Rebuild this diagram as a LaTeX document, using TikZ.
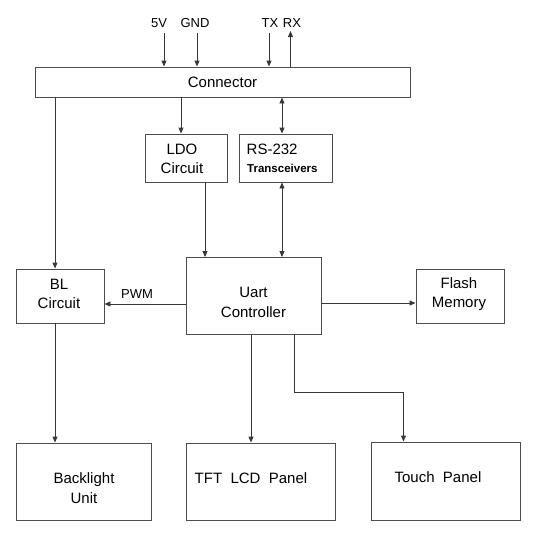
\documentclass[tikz,border=0pt]{standalone}
\usepackage{fontspec}
\setmainfont{Liberation Sans}
\usetikzlibrary{arrows.meta}
\begin{document}
\begin{tikzpicture}[x=1pt,y=-1pt,
  box/.style={draw=black!70, line width=0.9pt, rectangle, inner sep=0pt},
  txt/.style={inner sep=0pt, align=center, font=\fontsize{15}{19.5}\selectfont},
  small/.style={inner sep=0pt, font=\fontsize{13}{15}\selectfont},
  ln/.style={draw=black!78, line width=0.9pt},
  arr/.style={ln, -{Triangle[length=6pt,width=5pt]}},
  darr/.style={ln, {Triangle[length=6pt,width=5pt]}-{Triangle[length=6pt,width=5pt]}}]
\useasboundingbox (0,0) rectangle (533,542);
% boxes
\node[box, minimum width=375pt, minimum height=30pt] (conn) at (222.5,82) {};
\node[box, minimum width=82pt, minimum height=48pt] (ldo) at (186,158) {};
\node[box, minimum width=93pt, minimum height=48pt] (rs) at (285.5,158) {};
\node[box, minimum width=88pt, minimum height=54pt] (bl) at (60,296) {};
\node[box, minimum width=135pt, minimum height=77pt] (uart) at (253.5,296) {};
\node[box, minimum width=88pt, minimum height=54pt] (flash) at (460,296) {};
\node[box, minimum width=135pt, minimum height=77pt] (back) at (83.5,481.5) {};
\node[box, minimum width=149pt, minimum height=77pt] (tft) at (260.5,481.5) {};
\node[box, minimum width=149pt, minimum height=78pt] (touch) at (445.5,481) {};
% texts
\node[txt] (tconn) at (222.5,82) {Connector};
\node[txt] (tldo) at (182,159) {LDO\\Circuit};
\node[txt, anchor=west] (trs) at (246.5,149) {RS-232};
\node[inner sep=0pt, anchor=west, font=\fontsize{11.5}{13}\bfseries] (ttr) at (247,168) {Transceivers};
\node[txt] (tbl) at (59,294) {BL\\Circuit};
\node[txt] (tuart) at (253.5,302.5) {Uart\\Controller};
\node[txt] (tflash) at (459,294) {Flash\\Memory};
\node[txt] (tback) at (84,488) {Backlight\\Unit};
\node[txt] (ttft) at (251,478) {TFT\ \ LCD\ \ Panel};
\node[txt] (ttouch) at (438,477) {Touch\ \ Panel};
\node[small] (lpwm) at (137,294) {PWM};
\node[small] (l5v) at (159,23) {5V};
\node[small] (lgnd) at (195,23) {GND};
\node[small] (ltx) at (270,23) {TX};
\node[small] (lrx) at (292,23) {RX};
% top pins
\coordinate (p5v) at (164,33);
\coordinate (pgnd) at (197,33);
\coordinate (ptx) at (269,33);
\coordinate (prx) at (290.5,31);
\draw[arr] (p5v) -- (p5v |- conn.north);
\draw[arr] (pgnd) -- (pgnd |- conn.north);
\draw[arr] (ptx) -- (ptx |- conn.north);
\draw[arr] (prx |- conn.north) -- (prx);
% connector links
\draw[arr] (conn.south -| 181,0) -- (ldo.north -| 181,0);
\draw[darr] (conn.south -| 282,0) -- (rs.north -| 282,0);
\draw[arr] (conn.south -| 55,0) -- (bl.north -| 55,0);
\draw[arr] (ldo.south -| 205,0) -- (uart.north -| 205,0);
\draw[darr] (rs.south -| 282,0) -- (uart.north -| 282,0);
% uart links
\draw[arr] (uart.west |- 0,304) -- (bl.east |- 0,304);
\draw[arr] (uart.east |- 0,303) -- (flash.west |- 0,303);
\draw[arr] (bl.south -| 55,0) -- (back.north -| 55,0);
\draw[arr] (uart.south -| 251,0) -- (tft.north -| 251,0);
\draw[arr] (uart.south -| 294.5,0) -- (294.5,392) -- (403.5,392) -- (touch.north -| 403.5,0);
\end{tikzpicture}
\end{document}
